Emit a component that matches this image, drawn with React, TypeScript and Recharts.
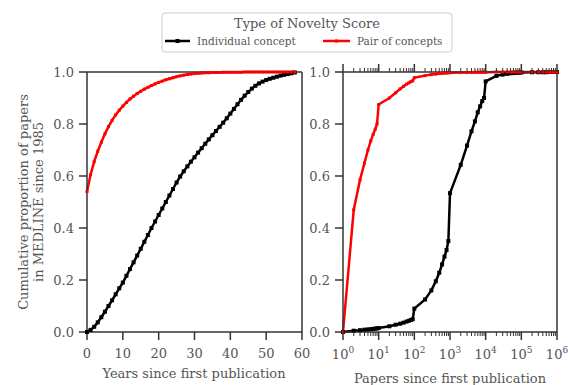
import { LineChart, Line, XAxis, YAxis } from 'recharts'

// left panel: years since first publication
const years = [
  0, 1, 2, 3, 4, 5, 6, 7, 8, 9, 10, 11, 12, 13, 14, 15, 16, 17, 18, 19,
  20, 21, 22, 23, 24, 25, 26, 27, 28, 29, 30, 31, 32, 33, 34, 35, 36, 37, 38, 39,
  40, 41, 42, 43, 44, 45, 46, 47, 48, 49, 50, 51, 52, 53, 54, 55, 56, 57, 58,
]
const individualByYear = [
  0.0, 0.008, 0.02, 0.037, 0.057, 0.078, 0.1, 0.122, 0.145, 0.168,
  0.19, 0.216, 0.242, 0.268, 0.294, 0.32, 0.347, 0.373, 0.4, 0.425,
  0.45, 0.475, 0.5, 0.525, 0.55, 0.575, 0.598, 0.618, 0.637, 0.655,
  0.672, 0.69, 0.707, 0.724, 0.741, 0.757, 0.773, 0.789, 0.805, 0.822,
  0.84, 0.858, 0.876, 0.893, 0.909, 0.923, 0.936, 0.947, 0.956, 0.963,
  0.969, 0.974, 0.978, 0.982, 0.986, 0.989, 0.992, 0.995, 0.998,
]
const pairByYear = [
  0.54, 0.605, 0.655, 0.695, 0.73, 0.762, 0.79, 0.814, 0.835, 0.853,
  0.869, 0.883, 0.896, 0.907, 0.917, 0.926, 0.934, 0.941, 0.948, 0.954,
  0.96, 0.965, 0.97, 0.974, 0.978, 0.982, 0.985, 0.988, 0.99, 0.992,
  0.994, 0.995, 0.996, 0.997, 0.997, 0.998, 0.998, 0.998, 0.999, 0.999,
  0.999, 0.999, 0.999, 0.999, 1, 1, 1, 1, 1, 1,
  1, 1, 1, 1, 1, 1, 1, 1, 1,
]

// right panel: papers since first publication
const paperCounts = [
  1, 2, 3, 4, 5, 6, 7, 8, 9,
  10, 20, 30, 40, 50, 60, 70, 80, 90,
  100, 200, 300, 400, 500, 600, 700, 800, 900,
  1000, 2000, 3000, 4000, 5000, 6000, 7000, 8000, 9000,
  10000, 20000, 30000, 40000, 50000, 60000, 70000, 80000, 90000,
  100000, 200000, 300000, 400000, 500000, 600000, 700000, 800000, 900000,
  1000000,
]
const individualByPapers = [
  0.0, 0.005, 0.007, 0.009, 0.01, 0.011, 0.012, 0.013, 0.014,
  0.015, 0.022, 0.028, 0.032, 0.036, 0.04, 0.043, 0.046, 0.049,
  0.09, 0.125, 0.16, 0.195, 0.228, 0.26, 0.29, 0.315, 0.35,
  0.534, 0.643, 0.717, 0.772, 0.81, 0.845, 0.868, 0.888, 0.9,
  0.964, 0.985, 0.99, 0.993, 0.995, 0.996, 0.997, 0.997, 0.998,
  0.998, 0.999, 0.999, 0.999, 0.999, 1, 1, 1, 1,
  1,
]
const pairByPapers = [
  0.0, 0.47, 0.585, 0.65, 0.7, 0.735, 0.76, 0.78, 0.8,
  0.875, 0.9, 0.92, 0.935, 0.945, 0.953, 0.958, 0.963, 0.966,
  0.978, 0.986, 0.99, 0.992, 0.994, 0.995, 0.996, 0.996, 0.997,
  0.997, 0.998, 0.998, 0.998, 0.999, 0.999, 0.999, 0.999, 0.999,
  0.999, 1, 1, 1, 1, 1, 1, 1, 1,
  1, 1, 1, 1, 1, 1, 1, 1, 1,
  1,
]

const proportionTicks = [0, 0.2, 0.4, 0.6, 0.8, 1]
const yearTicks = [0, 10, 20, 30, 40, 50, 60]
const paperTicks = [1, 10, 100, 1000, 10000, 100000, 1000000]
const minorSteps = [2, 3, 4, 5, 6, 7, 8, 9]

const W = 568
const H = 385
const INK = '#333'
const TEXT = '#555'
const FONT = "'DejaVu Serif', serif"

const yearData = years.map((year, i) => ({
  year,
  individual: individualByYear[i],
  pair: pairByYear[i],
}))
const paperData = paperCounts.map((papers, i) => ({
  papers,
  individual: individualByPapers[i],
  pair: pairByPapers[i],
}))
// major + minor ticks for the log axis
const allPaperTicks = paperTicks
  .slice(0, -1)
  .flatMap((p) => [p, ...minorSteps.map((m) => m * p)])
  .concat(paperTicks[paperTicks.length - 1])

const square = (size: number, color: string) => (props: any) => {
  const { cx, cy, index } = props
  if (cx == null || cy == null) return <g key={`e${index}`} />
  return <rect key={`s${index}`} x={cx - size / 2} y={cy - size / 2} width={size} height={size} fill={color} />
}

const isMajor = (v: number) => Math.abs(Math.log10(v) - Math.round(Math.log10(v))) < 1e-6

// bottom log axis tick: draws its own tick line, label only on powers of ten
function PowerTick(props: any) {
  const { x, y, payload } = props
  const v = payload.value
  const major = isMajor(v)
  return (
    <g>
      <line x1={x} x2={x} y1={y} y2={y + (major ? 8 : 4)} stroke={INK} strokeWidth={major ? 1.5 : 1} />
      {major && (
        <text x={x} y={y + 27} textAnchor="middle" fill={TEXT} fontSize={13} fontFamily={FONT}>
          10<tspan dy={-6} fontSize={9}>{Math.round(Math.log10(v))}</tspan>
        </text>
      )}
    </g>
  )
}

function TopLogTick(props: any) {
  const { x, y, payload } = props
  const major = isMajor(payload.value)
  return <line x1={x} x2={x} y1={y} y2={y - (major ? 8 : 4)} stroke={INK} strokeWidth={major ? 1.5 : 1} />
}

const tickText = { fill: TEXT, fontSize: 13, fontFamily: FONT }
const axisLine = { stroke: INK, strokeWidth: 1.5 }
const fmt = (v: number) => v.toFixed(1)

function YearsPanel() {
  return (
    <LineChart width={W} height={H} data={yearData} margin={{ top: 71, right: 265, bottom: 52, left: 86 }}>
      <XAxis xAxisId="b" dataKey="year" type="number" domain={[0, 60]} ticks={yearTicks} interval={0}
        height={1} tickSize={8} tickMargin={9} tick={tickText} axisLine={axisLine} tickLine={axisLine} />
      <XAxis xAxisId="t" orientation="top" dataKey="year" type="number" domain={[0, 60]} ticks={yearTicks}
        interval={0} height={1} tickSize={8} tick={false} axisLine={axisLine} tickLine={axisLine} />
      <YAxis yAxisId="l" type="number" domain={[0, 1]} ticks={proportionTicks} interval={0} width={1}
        tickSize={8} tickMargin={5} tick={tickText} tickFormatter={fmt} axisLine={axisLine} tickLine={axisLine} />
      <YAxis yAxisId="r" orientation="right" type="number" domain={[0, 1]} ticks={proportionTicks} interval={0}
        width={1} tickSize={8} tick={false} axisLine={axisLine} tickLine={axisLine} />
      <Line xAxisId="b" yAxisId="l" type="linear" dataKey="individual" stroke="#000" strokeWidth={2.5}
        dot={square(4, '#000')} isAnimationActive={false} />
      <Line xAxisId="b" yAxisId="l" type="linear" dataKey="pair" stroke="#f00" strokeWidth={2.5}
        dot={square(3, '#f00')} isAnimationActive={false} />
    </LineChart>
  )
}

function PapersPanel() {
  return (
    <LineChart width={W} height={H} data={paperData} margin={{ top: 71, right: 10, bottom: 52, left: 342 }}>
      <XAxis xAxisId="b" dataKey="papers" type="number" scale="log" domain={[1, 1000000]} ticks={allPaperTicks}
        interval={0} height={1} tickSize={0} tickMargin={0} tick={<PowerTick />} axisLine={axisLine} tickLine={false} />
      <XAxis xAxisId="t" orientation="top" dataKey="papers" type="number" scale="log" domain={[1, 1000000]}
        ticks={allPaperTicks} interval={0} height={1} tickSize={0} tickMargin={0} tick={<TopLogTick />}
        axisLine={axisLine} tickLine={false} />
      <YAxis yAxisId="l" type="number" domain={[0, 1]} ticks={proportionTicks} interval={0} width={1}
        tickSize={8} tickMargin={5} tick={tickText} tickFormatter={fmt} axisLine={axisLine} tickLine={axisLine} />
      <YAxis yAxisId="r" orientation="right" type="number" domain={[0, 1]} ticks={proportionTicks} interval={0}
        width={1} tickSize={8} tick={false} axisLine={axisLine} tickLine={axisLine} />
      <Line xAxisId="b" yAxisId="l" type="linear" dataKey="individual" stroke="#000" strokeWidth={2.5}
        dot={square(4, '#000')} isAnimationActive={false} />
      <Line xAxisId="b" yAxisId="l" type="linear" dataKey="pair" stroke="#f00" strokeWidth={2.5}
        dot={square(3, '#f00')} isAnimationActive={false} />
    </LineChart>
  )
}

function Decorations() {
  return (
    <svg width={W} height={H} style={{ position: 'absolute', left: 0, top: 0, pointerEvents: 'none' }}
      fontFamily={FONT} fill={TEXT}>
      {/* legend */}
      <rect x={162} y={13} width={290} height={39} rx={3} fill="#fff" stroke="#ccc" />
      <text x={307} y={28} textAnchor="middle" fontSize={13}>Type of Novelty Score</text>
      <line x1={165} x2={190} y1={41} y2={41} stroke="#000" strokeWidth={2.5} />
      <rect x={175.5} y={39} width={4} height={4} fill="#000" />
      <text x={197} y={45} fontSize={10.5}>Individual concept</text>
      <line x1={323} x2={350} y1={41} y2={41} stroke="#f00" strokeWidth={2.5} />
      <rect x={335} y={39.5} width={3} height={3} fill="#f00" />
      <text x={357} y={45} fontSize={10.5}>Pair of concepts</text>
      {/* axis titles */}
      <text x={194} y={378} textAnchor="middle" fontSize={13}>Years since first publication</text>
      <text x={450} y={383} textAnchor="middle" fontSize={13}>Papers since first publication</text>
      <text transform="translate(28,202) rotate(-90)" textAnchor="middle" fontSize={13}>
        Cumulative proportion of papers
      </text>
      <text transform="translate(43,202) rotate(-90)" textAnchor="middle" fontSize={13}>
        in MEDLINE since 1985
      </text>
    </svg>
  )
}

export default function App() {
  return (
    <div style={{ position: 'absolute', left: 0, top: 0, width: W, height: H, background: '#fff', fontFamily: FONT }}>
      <div style={{ position: 'absolute', left: 0, top: 0 }}>
        <YearsPanel />
      </div>
      <div style={{ position: 'absolute', left: 0, top: 0 }}>
        <PapersPanel />
      </div>
      <Decorations />
    </div>
  )
}
